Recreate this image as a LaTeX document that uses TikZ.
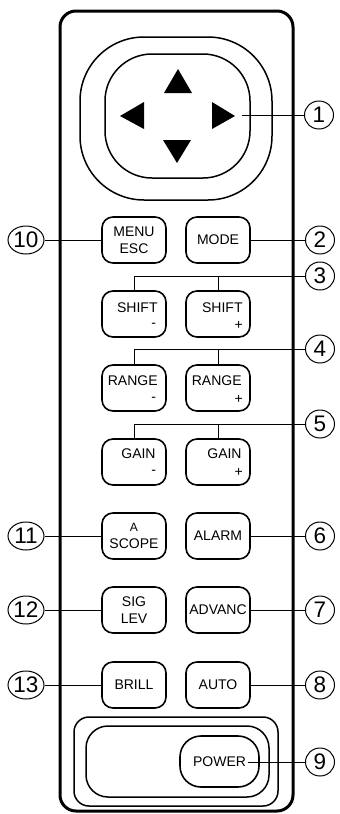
\documentclass[tikz,border=0pt]{standalone}
\usepackage{fontspec}
\setmainfont{Liberation Sans}
\usetikzlibrary{shapes.geometric}
\begin{document}
\begin{tikzpicture}[x=1pt,y=-1pt,
  btn/.style={draw, line width=1.6pt, rounded corners=11pt, minimum width=64pt, minimum height=46pt, inner sep=0pt, align=center, font=\fontsize{14}{17}\selectfont},
  txt/.style={inner sep=0pt, font=\fontsize{14}{17}\selectfont},
  num/.style={draw, ellipse, line width=1pt, minimum width=29pt, minimum height=28pt, inner sep=0pt, font=\fontsize{22.5}{22.5}\selectfont},
  numw/.style={num, minimum width=36pt},
  lead/.style={line width=0.9pt},
  shell/.style={line width=1.5pt},
  tri/.style={fill=black}]
\useasboundingbox (0,0) rectangle (340,814);
% frame
\draw[line width=3pt, rounded corners=16pt] (60,11) rectangle (293,811);
% d-pad
\draw[shell, rounded corners=64pt] (80,37) rectangle (272,200);
\draw[shell, rounded corners=47pt] (105,54) rectangle (250,178);
\fill[tri] (178,69) -- (164,93) -- (192,93) -- cycle;
\fill[tri] (177,163) -- (163,140) -- (191,140) -- cycle;
\fill[tri] (120,116) -- (144,102) -- (144,129) -- cycle;
\fill[tri] (235,116) -- (212,102) -- (212,129) -- cycle;
\coordinate (p1) at (242,115);
% buttons
\node[btn] (menu) at (134,240) {MENU\\ESC};
\node[btn] (mode) at (218,240) {MODE};
\node[btn] (shiftm) at (134,314) {};
\node[btn] (shiftp) at (218,314) {};
\node[btn] (rangem) at (134,388) {};
\node[btn] (rangep) at (218,388) {};
\node[btn] (gainm) at (134,462) {};
\node[btn] (gainp) at (218,462) {};
\node[txt, anchor=east] (tsm) at ([xshift=-9pt,yshift=6pt]shiftm.east) {SHIFT};
\node[txt] (tsm2) at ([xshift=-13pt,yshift=-11pt]shiftm.east) {-};
\node[txt, anchor=east] (tsp) at ([xshift=-8pt,yshift=6pt]shiftp.east) {SHIFT};
\node[txt] (tsp2) at ([xshift=-12pt,yshift=-11pt]shiftp.east) {+};
\node[txt, anchor=east] (trm) at ([xshift=-9pt,yshift=7pt]rangem.east) {RANGE};
\node[txt] (trm2) at ([xshift=-13pt,yshift=-11pt]rangem.east) {-};
\node[txt, anchor=east] (trp) at ([xshift=-9pt,yshift=7pt]rangep.east) {RANGE};
\node[txt] (trp2) at ([xshift=-12pt,yshift=-11pt]rangep.east) {+};
\node[txt, anchor=east] (tgm) at ([xshift=-11pt,yshift=8pt]gainm.east) {GAIN};
\node[txt] (tgm2) at ([xshift=-13pt,yshift=-10pt]gainm.east) {-};
\node[txt, anchor=east] (tgp) at ([xshift=-9pt,yshift=8pt]gainp.east) {GAIN};
\node[txt] (tgp2) at ([xshift=-12pt,yshift=-10pt]gainp.east) {+};
\node[btn] (scope) at (134,536) {{\fontsize{12}{15}\selectfont A}\\SCOPE};
\node[btn] (alarm) at (218,536) {ALARM};
\node[btn] (siglev) at (134,610) {SIG\\LEV};
\node[btn] (advanc) at (218,610) {ADVANC};
\node[btn] (brill) at (134,685) {BRILL};
\node[btn] (auto) at (218,685) {AUTO};
% power area
\draw[shell, rounded corners=15pt] (74,717) rectangle (278,806);
\draw[shell, rounded corners=22pt] (86,726) rectangle (269,797);
\node[btn, minimum width=79pt, minimum height=51pt, rounded corners=21pt] (power) at (219.5,761.5) {POWER};
\coordinate (pw) at (248,762);
% number circles
\node[num] (n1) at (319,115) {1};
\node[num] (n2) at (320,240) {2};
\node[num] (n3) at (320,276) {3};
\node[num] (n4) at (320,349) {4};
\node[num] (n5) at (320,424) {5};
\node[num] (n6) at (320,536) {6};
\node[num] (n7) at (320,610) {7};
\node[num] (n8) at (320,685) {8};
\node[num] (n9) at (320,762) {9};
\node[numw] (n10) at (26,240) {10};
\node[numw] (n11) at (26,536) {11};
\node[numw] (n12) at (26,610) {12};
\node[numw] (n13) at (26,685) {13};
% leaders
\draw[lead] (p1) -- (n1);
\draw[lead] (mode.east) -- (n2);
\draw[lead] (shiftm.north) |- (n3.west);
\draw[lead] (shiftp.north) -- (shiftp.north |- n3.west);
\draw[lead] (rangem.north) |- (n4.west);
\draw[lead] (rangep.north) -- (rangep.north |- n4.west);
\draw[lead] (gainm.north) |- (n5.west);
\draw[lead] (gainp.north) -- (gainp.north |- n5.west);
\draw[lead] (alarm.east) -- (n6);
\draw[lead] (advanc.east) -- (n7);
\draw[lead] (auto.east) -- (n8);
\draw[lead] (pw) -- (n9);
\draw[lead] (n10) -- (menu.west);
\draw[lead] (n11) -- (scope.west);
\draw[lead] (n12) -- (siglev.west);
\draw[lead] (n13) -- (brill.west);
\end{tikzpicture}
\end{document}
